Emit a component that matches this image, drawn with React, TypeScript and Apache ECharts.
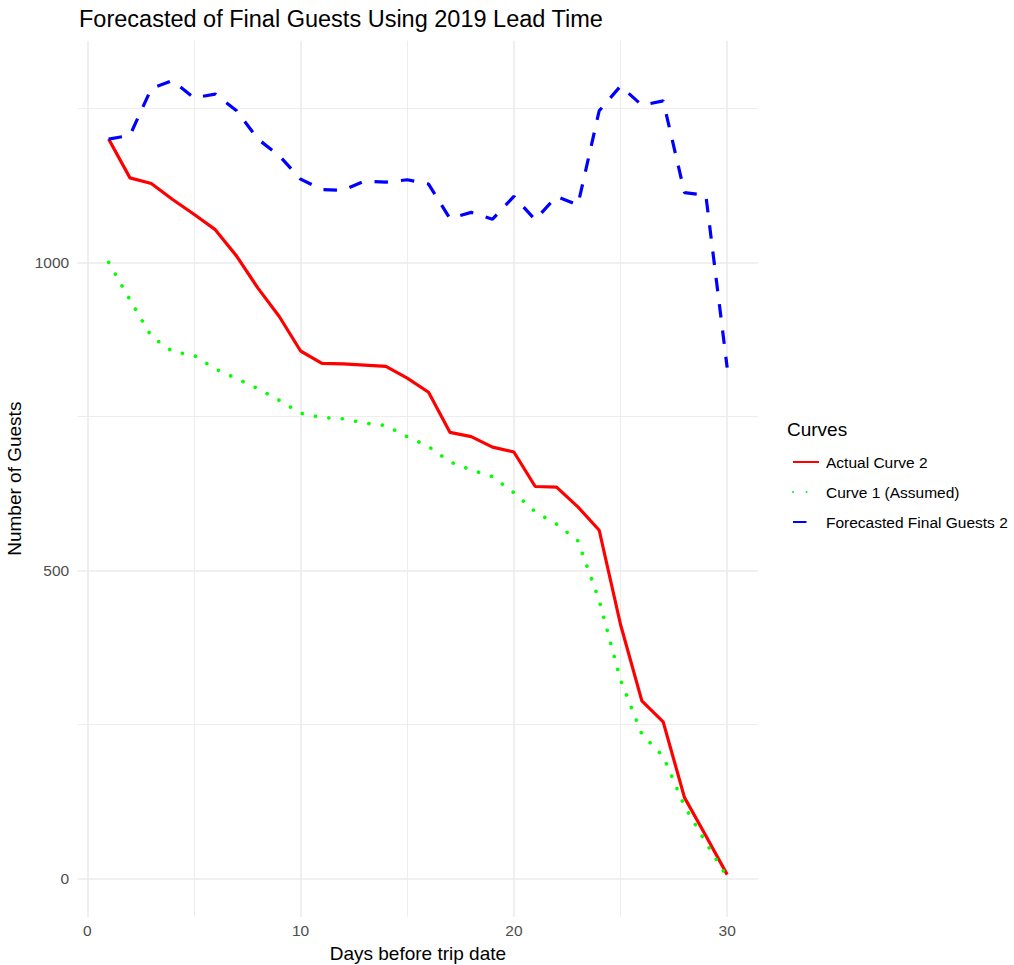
import React, { useEffect, useRef } from "react";
import * as echarts from "echarts";

const days = [1, 2, 3, 4, 5, 6, 7, 8, 9, 10, 11, 12, 13, 14, 15, 16, 17, 18, 19, 20, 21, 22, 23, 24, 25, 26, 27, 28, 29, 30];
const actualCurve2 = [1200, 1137, 1128, 1102, 1078, 1053, 1010, 958, 912, 856, 836, 835, 833, 831, 812, 789, 724, 717, 700, 692, 636, 635, 603, 565, 412, 288, 254, 131, 69, 6];
const curve1Assumed = [1000, 939, 880, 855, 849, 827, 811, 795, 776, 755, 748, 746, 739, 735, 717, 701, 676, 663, 652, 626, 595, 575, 548, 451, 322, 234, 198, 117, 58, 2];
const forecastFinal2 = [1200, 1206, 1282, 1295, 1267, 1273, 1246, 1200, 1173, 1135, 1118, 1117, 1132, 1130, 1134, 1127, 1071, 1081, 1070, 1107, 1069, 1107, 1093, 1246, 1286, 1255, 1262, 1113, 1109, 829];

const seriesNames = ["Actual Curve 2", "Curve 1 (Assumed)", "Forecasted Final Guests 2"];
const xMajorTicks = [0, 10, 20, 30];
const xMinorTicks = [5, 15, 25];
const yMajorTicks = [0, 500, 1000];
const yMinorTicks = [250, 750, 1250];

const FONT = "'Liberation Sans', Arial, sans-serif";

export default function App() {
  const ref = useRef<HTMLDivElement>(null);

  useEffect(() => {
    const chart = echarts.init(ref.current!, null, { renderer: "svg" });
    const toPairs = (vals: number[]) => days.map((d, i) => [d, vals[i]]);
    const xMin = -0.45;
    const xMax = 31.45;
    const yMin = -62.3;
    const yMax = 1359.7;
    const plain = (v: number) => String(v);

    const option: any = {
      animation: false,
      backgroundColor: "#ffffff",
      title: {
        text: "Forecasted of Final Guests Using 2019 Lead Time",
        left: 74,
        top: 2,
        textStyle: { fontFamily: FONT, fontSize: 23.5, fontWeight: "normal", color: "#000000" },
      },
      grid: {
        left: 77.7,
        right: 255.9,
        top: 40.7,
        bottom: 48.3,
        containLabel: false,
        outerBoundsMode: "none",
      },
      xAxis: [
        {
          type: "value",
          min: xMin,
          max: xMax,
          position: "bottom",
          axisLine: { show: false },
          axisTick: { show: false, customValues: xMajorTicks },
          axisLabel: { customValues: xMajorTicks, formatter: plain, color: "#4d4d4d", fontSize: 15.5, fontFamily: FONT, margin: 6 },
          splitLine: { show: true, lineStyle: { color: "#ebebeb", width: 1.6 } },
          name: "Days before trip date",
          nameLocation: "middle",
          nameGap: 24,
          nameTextStyle: { fontFamily: FONT, fontSize: 19, color: "#000000" },
        },
        {
          type: "value",
          min: xMin,
          max: xMax,
          position: "bottom",
          axisLine: { show: false },
          axisTick: { show: false, customValues: xMinorTicks },
          axisLabel: { show: false, customValues: xMinorTicks },
          splitLine: { show: true, lineStyle: { color: "#ebebeb", width: 0.9 } },
        },
      ],
      yAxis: [
        {
          type: "value",
          min: yMin,
          max: yMax,
          position: "left",
          axisLine: { show: false },
          axisTick: { show: false, customValues: yMajorTicks },
          axisLabel: { customValues: yMajorTicks, formatter: plain, color: "#4d4d4d", fontSize: 15.5, fontFamily: FONT, margin: 8.5 },
          splitLine: { show: true, lineStyle: { color: "#ebebeb", width: 1.6 } },
          name: "Number of Guests",
          nameLocation: "middle",
          nameGap: 47,
          nameRotate: 90,
          nameTextStyle: { fontFamily: FONT, fontSize: 19, color: "#000000" },
        },
        {
          type: "value",
          min: yMin,
          max: yMax,
          position: "left",
          axisLine: { show: false },
          axisTick: { show: false, customValues: yMinorTicks },
          axisLabel: { show: false, customValues: yMinorTicks },
          splitLine: { show: true, lineStyle: { color: "#ebebeb", width: 0.9 } },
        },
      ],
      legend: {
        orient: "vertical",
        left: 787,
        top: 449,
        itemWidth: 26,
        itemHeight: 16,
        itemGap: 14,
        data: seriesNames,
        itemStyle: { opacity: 0 },
        textStyle: { fontFamily: FONT, fontSize: 15.5, color: "#000000", padding: [0, 0, 0, 2], lineHeight: 16 },
      },
      graphic: [
        {
          type: "text",
          left: 787,
          top: 420,
          style: { text: "Curves", fontFamily: FONT, fontSize: 19, fill: "#000000" },
        },
      ],
      series: [
        {
          name: seriesNames[0],
          type: "line",
          data: toPairs(actualCurve2),
          symbol: "none",
          showSymbol: false,
          lineStyle: { color: "#ff0000", width: 3.2 },
          itemStyle: { color: "#ff0000" },
        },
        {
          name: seriesNames[1],
          type: "line",
          data: toPairs(curve1Assumed),
          symbol: "none",
          showSymbol: false,
          lineStyle: { color: "#00ff00", width: 3.6, type: [0.1, 13.4], cap: "round" },
          itemStyle: { color: "#00ff00" },
        },
        {
          name: seriesNames[2],
          type: "line",
          data: toPairs(forecastFinal2),
          symbol: "none",
          showSymbol: false,
          lineStyle: { color: "#0000ff", width: 3.2, type: [13.5, 13] },
          itemStyle: { color: "#0000ff" },
        },
      ],
    };

    chart.setOption(option);
    return () => chart.dispose();
  }, []);

  return (
    <div
      ref={ref}
      style={{ position: "fixed", left: 0, top: 0, width: 1014, height: 965, background: "#ffffff" }}
    />
  );
}
